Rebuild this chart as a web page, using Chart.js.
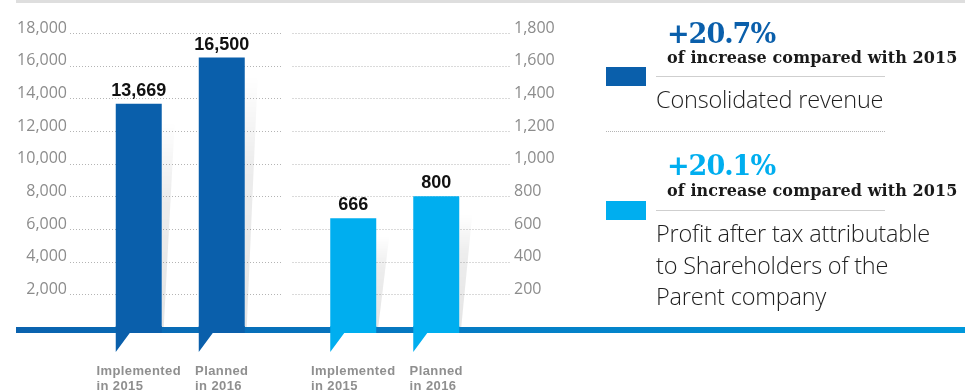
<!DOCTYPE html>
<html>
<head>
<meta charset="utf-8">
<script src="https://cdn.jsdelivr.net/npm/chart.js@4.4.1/dist/chart.umd.min.js"></script>
<style>
  html, body { margin: 0; padding: 0; background: #fff; }
  #wrap { position: relative; width: 965px; height: 392px; overflow: hidden; }
  #results-chart { position: absolute; left: 0; top: 0; }
  .pct { position: absolute; left: 667px; font: bold 27px "DejaVu Serif", serif; line-height: 1; letter-spacing: -1px; }
  .sub { position: absolute; left: 667px; font: bold 16px "DejaVu Serif", serif; line-height: 1; color: #1a1a1a; white-space: nowrap; letter-spacing: 0.1px; }
  .swatch { position: absolute; left: 606px; width: 40px; height: 19px; }
  .rule { position: absolute; left: 656px; width: 229px; height: 0; border-top: 1px solid #cfcfcf; }
  .dots { position: absolute; left: 606px; width: 279px; height: 0; border-top: 1px dotted #b5b5b5; }
  .name { position: absolute; left: 656px; font: 300 23.5px "Open Sans", sans-serif; line-height: 31.5px; color: #1e1e1e; white-space: nowrap; letter-spacing: -0.2px; }
</style>
</head>
<body>
<div id="wrap">
  <canvas id="results-chart" width="965" height="392"></canvas>
  <div class="pct" id="pct-0" style="top:20px;color:#0a5fab"></div>
  <div class="sub" style="top:50px">of increase compared with 2015</div>
  <div class="swatch" style="top:67px;background:#0a5fab"></div>
  <div class="rule" style="top:76px"></div>
  <div class="name" id="name-0" style="top:84px"></div>
  <div class="dots" style="top:131px"></div>
  <div class="pct" id="pct-1" style="top:152px;color:#00aeef"></div>
  <div class="sub" style="top:183px">of increase compared with 2015</div>
  <div class="swatch" style="top:201px;background:#00aeef"></div>
  <div class="rule" style="top:210px"></div>
  <div class="name" id="name-1" style="top:218px"></div>
</div>
<script>
// figures in billion VND, left axis = revenue, right axis = profit
const metrics = ['Consolidated revenue', 'Profit after tax attributable\nto Shareholders of the\nParent company'];
const periods = [['Implemented', 'in 2015'], ['Planned', 'in 2016']];
const revenue = [13669, 16500];
const profit = [666, 800];
const growth = ['+20.7%', '+20.1%'];
const revenueTicks = [2000, 4000, 6000, 8000, 10000, 12000, 14000, 16000, 18000];
const profitTicks = [200, 400, 600, 800, 1000, 1200, 1400, 1600, 1800];

const darkBlue = '#0a5fab';
const lightBlue = '#00aeef';

document.getElementById('pct-0').textContent = growth[0];
document.getElementById('pct-1').textContent = growth[1];
document.getElementById('name-0').innerText = metrics[0];
document.getElementById('name-1').innerText = metrics[1];

// one dataset per bar so each metric can sit on its own axis; skipNull keeps the pairs together
const datasets = [];
periods.forEach((p, i) => {
    datasets.push({ label: p.join(' '), data: [revenue[i], null], yAxisID: 'y', backgroundColor: darkBlue });
});
periods.forEach((p, i) => {
    datasets.push({ label: p.join(' '), data: [null, profit[i]], yAxisID: 'y1', backgroundColor: lightBlue });
});

const fmt = new Intl.NumberFormat('en-US');

const decor = {
    id: 'decor',
    beforeDatasetsDraw(chart) {
        const { ctx, chartArea, scales } = chart;
        const w = chart.width;
        ctx.save();
        // top rule
        ctx.fillStyle = '#dedede';
        ctx.fillRect(16, 0, w - 16, 3);

        // dotted grid, split between the two axes
        const mid = (scales.x.getPixelForValue(0) + scales.x.getPixelForValue(1)) / 2;
        ctx.strokeStyle = '#b4b4b4';
        ctx.lineWidth = 1;
        ctx.setLineDash([1, 2]);
        revenueTicks.forEach(v => {
            const y = Math.round(scales.y.getPixelForValue(v)) + 0.5;
            ctx.beginPath();
            ctx.moveTo(chartArea.left - 3, y);
            ctx.lineTo(mid - 5, y);
            ctx.stroke();
        });
        profitTicks.forEach(v => {
            const y = Math.round(scales.y1.getPixelForValue(v)) + 0.5;
            ctx.beginPath();
            ctx.moveTo(mid + 5, y);
            ctx.lineTo(chartArea.right + 8, y);
            ctx.stroke();
        });
        ctx.setLineDash([]);

        // soft shadows on the right of each bar
        chart.data.datasets.forEach((ds, di) => {
            chart.getDatasetMeta(di).data.forEach((bar, i) => {
                if (ds.data[i] == null) return;
                const right = bar.x + bar.width / 2;
                const top = bar.y + 18;
                const g = ctx.createLinearGradient(0, top, 0, bar.base);
                g.addColorStop(0, 'rgba(0,0,0,0)');
                g.addColorStop(0.35, 'rgba(0,0,0,0.07)');
                g.addColorStop(1, 'rgba(0,0,0,0.1)');
                ctx.fillStyle = g;
                ctx.beginPath();
                ctx.moveTo(right, top);
                ctx.lineTo(right + 13, top);
                ctx.lineTo(right + 2, bar.base);
                ctx.lineTo(right, bar.base);
                ctx.closePath();
                ctx.fill();
            });
        });

        // base band
        const band = ctx.createLinearGradient(16, 0, w, 0);
        band.addColorStop(0, '#0a62ae');
        band.addColorStop(1, '#0098db');
        ctx.fillStyle = band;
        ctx.fillRect(16, chartArea.bottom, w - 16, 6);
        ctx.restore();
    },
    afterDatasetsDraw(chart) {
        const { ctx } = chart;
        ctx.save();
        chart.data.datasets.forEach((ds, di) => {
            chart.getDatasetMeta(di).data.forEach((bar, i) => {
                if (ds.data[i] == null) return;
                const left = bar.x - bar.width / 2;
                const right = bar.x + bar.width / 2;
                // bar runs through the band and ends in a small tab
                ctx.fillStyle = ds.backgroundColor;
                ctx.beginPath();
                ctx.moveTo(left, bar.base - 1);
                ctx.lineTo(right, bar.base - 1);
                ctx.lineTo(right, bar.base + 6);
                ctx.lineTo(left + 14, bar.base + 6);
                ctx.lineTo(left, bar.base + 25);
                ctx.closePath();
                ctx.fill();

                // value on top
                ctx.fillStyle = '#111';
                ctx.font = 'bold 18px "Liberation Sans", Arial, sans-serif';
                ctx.textAlign = 'center';
                ctx.textBaseline = 'alphabetic';
                ctx.fillText(fmt.format(ds.data[i]), bar.x, bar.y - 8);

                // period label under the band
                const lines = periods[di % 2];
                ctx.font = 'bold 13px "Liberation Sans", Arial, sans-serif';
                if ('letterSpacing' in ctx) ctx.letterSpacing = '0.4px';
                ctx.fillStyle = '#8f8f8f';
                ctx.textAlign = 'left';
                const bw = Math.max(...lines.map(t => ctx.measureText(t).width));
                lines.forEach((t, k) => ctx.fillText(t, bar.x - bw / 2, 375 + k * 15));
                if ('letterSpacing' in ctx) ctx.letterSpacing = '0px';
            });
        });
        ctx.restore();
    }
};

const tickFont = { family: '"Open Sans", sans-serif', size: 16 };

new Chart(document.getElementById('results-chart'), {
    type: 'bar',
    data: { labels: metrics, datasets: datasets },
    options: {
        responsive: false,
        animation: false,
        skipNull: true,
        categoryPercentage: 0.774,
        barPercentage: 0.554,
        layout: { padding: { top: 33, bottom: 65, left: 0, right: 0 } },
        plugins: { legend: { display: false }, tooltip: { enabled: false } },
        scales: {
            x: { display: false },
            y: {
                position: 'left',
                min: 0,
                max: revenueTicks[revenueTicks.length - 1],
                afterBuildTicks: s => { s.ticks = revenueTicks.map(v => ({ value: v })); },
                ticks: { font: tickFont, color: '#8c8c8c', padding: 6, labelOffset: -5,
                    callback: v => fmt.format(v) },
                grid: { display: false, drawTicks: false },
                border: { display: false },
                afterFit: s => { s.width = 73; }
            },
            y1: {
                position: 'right',
                min: 0,
                max: profitTicks[profitTicks.length - 1],
                afterBuildTicks: s => { s.ticks = profitTicks.map(v => ({ value: v })); },
                ticks: { font: tickFont, color: '#8c8c8c', padding: 12, labelOffset: -5,
                    callback: v => fmt.format(v) },
                grid: { display: false, drawTicks: false },
                border: { display: false },
                afterFit: s => { s.width = 463; }
            }
        }
    },
    plugins: [decor]
});
</script>
</body>
</html>
